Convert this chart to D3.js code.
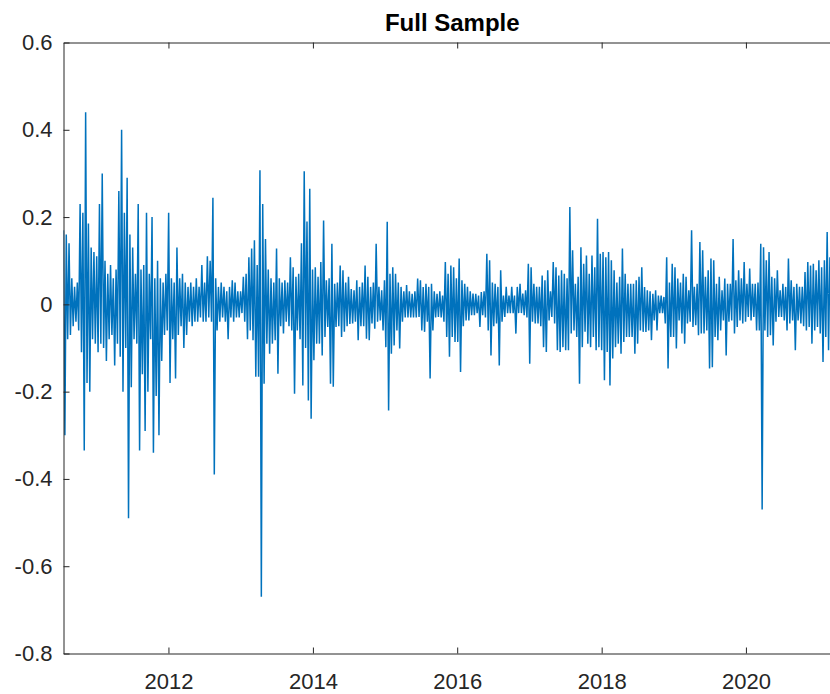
<!DOCTYPE html>
<html>
<head>
<meta charset="utf-8">
<script src="https://cdn.jsdelivr.net/npm/d3@7"></script>
<style>
    body { margin: 0; background: #fff; }
    svg { display: block; }
    text { font-family: "Liberation Sans", Arial, Helvetica, sans-serif; }
</style>
</head>
<body>
<svg id="chart" width="830" height="694"></svg>
<script>
// Daily return series, read off the picture as weekly max/min pairs
// (even index = upper extreme of that week, odd index = lower extreme).
var startDate = new Date(2010, 6, 19);
var stepDays = 7;
var weeklyReturns = [
    0.17, -0.30, 0.16, -0.08, 0.14, -0.07, 0.06, -0.05, 0.04, -0.04,
    0.05, -0.06, 0.23, -0.11, 0.21, -0.335, 0.44, -0.18, 0.185, -0.20,
    0.13, -0.08, 0.12, -0.09, 0.11, -0.11, 0.23, -0.09, 0.30, -0.10,
    0.10, -0.13, 0.07, -0.08, 0.09, -0.07, 0.06, -0.14, 0.08, -0.09,
    0.26, -0.12, 0.40, -0.20, 0.21, -0.10, 0.29, -0.49, 0.16, -0.19,
    0.13, -0.08, 0.07, -0.09, 0.23, -0.335, 0.08, -0.16, 0.09, -0.29,
    0.21, -0.20, 0.07, -0.08, 0.20, -0.34, 0.06, -0.21, 0.10, -0.30,
    0.06, -0.13, 0.05, -0.07, 0.07, -0.06, 0.21, -0.18, 0.06, -0.08,
    0.05, -0.17, 0.13, -0.07, 0.06, -0.05, 0.07, -0.10, 0.05, -0.07,
    0.04, -0.04, 0.05, -0.05, 0.04, -0.04, 0.06, -0.04, 0.04, -0.03,
    0.09, -0.04, 0.05, -0.04, 0.11, -0.03, 0.10, -0.04, 0.244, -0.39,
    0.06, -0.06, 0.04, -0.04, 0.05, -0.03, 0.04, -0.04, 0.03, -0.08,
    0.04, -0.03, 0.055, -0.04, 0.05, -0.03, 0.03, -0.03, 0.03, -0.02,
    0.063, -0.04, 0.07, -0.08, 0.108, -0.06, 0.128, -0.082, 0.147, -0.166,
    0.09, -0.166, 0.307, -0.67, 0.23, -0.182, 0.15, -0.09, 0.08, -0.113,
    0.06, -0.09, 0.05, -0.082, 0.128, -0.159, 0.06, -0.05, 0.05, -0.067,
    0.055, -0.04, 0.05, -0.05, 0.108, -0.06, 0.085, -0.205, 0.063, -0.06,
    0.07, -0.08, 0.14, -0.186, 0.305, -0.10, 0.19, -0.22, 0.265, -0.262,
    0.08, -0.128, 0.085, -0.09, 0.063, -0.09, 0.097, -0.117, 0.192, -0.075,
    0.055, -0.052, 0.06, -0.182, 0.139, -0.189, 0.047, -0.052, 0.05, -0.05,
    0.089, -0.075, 0.078, -0.063, 0.05, -0.05, 0.063, -0.045, 0.035, -0.044,
    0.032, -0.04, 0.055, -0.082, 0.04, -0.05, 0.05, -0.05, 0.089, -0.079,
    0.063, -0.082, 0.04, -0.044, 0.05, -0.056, 0.139, -0.04, 0.04, -0.037,
    0.032, -0.06, 0.055, -0.098, 0.189, -0.243, 0.07, -0.113, 0.085, -0.094,
    0.07, -0.06, 0.05, -0.101, 0.04, -0.04, 0.03, -0.03, 0.044, -0.03,
    0.03, -0.03, 0.024, -0.03, 0.03, -0.03, 0.059, -0.029, 0.055, -0.06,
    0.04, -0.063, 0.047, -0.04, 0.04, -0.17, 0.047, -0.06, 0.03, -0.03,
    0.024, -0.029, 0.03, -0.03, 0.02, -0.04, 0.097, -0.075, 0.07, -0.12,
    0.089, -0.075, 0.085, -0.086, 0.06, -0.086, 0.105, -0.155, 0.055, -0.05,
    0.047, -0.037, 0.04, -0.037, 0.03, -0.025, 0.025, -0.025, 0.024, -0.02,
    0.02, -0.052, 0.028, -0.025, 0.03, -0.03, 0.116, -0.06, 0.101, -0.117,
    0.05, -0.05, 0.047, -0.044, 0.04, -0.14, 0.078, -0.04, 0.02, -0.029,
    0.04, -0.02, 0.02, -0.02, 0.04, -0.02, 0.02, -0.067, 0.04, -0.02,
    0.047, -0.02, 0.025, -0.025, 0.032, -0.03, 0.093, -0.136, 0.085, -0.04,
    0.047, -0.044, 0.04, -0.044, 0.04, -0.05, 0.066, -0.098, 0.055, -0.109,
    0.078, -0.037, 0.03, -0.029, 0.097, -0.044, 0.085, -0.105, 0.066, -0.109,
    0.078, -0.098, 0.07, -0.105, 0.06, -0.105, 0.223, -0.067, 0.124, -0.06,
    0.047, -0.075, 0.063, -0.182, 0.131, -0.098, 0.093, -0.063, 0.112, -0.09,
    0.07, -0.098, 0.112, -0.075, 0.085, -0.105, 0.196, -0.098, 0.116, -0.105,
    0.12, -0.174, 0.108, -0.109, 0.12, -0.186, 0.101, -0.124, 0.078, -0.098,
    0.05, -0.09, 0.063, -0.113, 0.128, -0.086, 0.07, -0.075, 0.047, -0.075,
    0.047, -0.075, 0.047, -0.113, 0.055, -0.09, 0.063, -0.06, 0.085, -0.063,
    0.04, -0.063, 0.032, -0.06, 0.03, -0.082, 0.024, -0.037, 0.032, -0.06,
    0.02, -0.02, 0.02, -0.02, 0.017, -0.044, 0.108, -0.147, 0.05, -0.075,
    0.093, -0.075, 0.085, -0.101, 0.059, -0.037, 0.05, -0.067, 0.07, -0.09,
    0.063, -0.044, 0.032, -0.04, 0.17, -0.052, 0.04, -0.048, 0.047, -0.071,
    0.143, -0.067, 0.124, -0.067, 0.063, -0.06, 0.078, -0.147, 0.105, -0.144,
    0.101, -0.075, 0.047, -0.082, 0.063, -0.06, 0.032, -0.037, 0.059, -0.117,
    0.047, -0.04, 0.047, -0.037, 0.15, -0.067, 0.055, -0.052, 0.078, -0.037,
    0.06, -0.044, 0.097, -0.04, 0.047, -0.029, 0.082, -0.037, 0.047, -0.029,
    0.047, -0.06, 0.05, -0.06, 0.139, -0.47, 0.131, -0.06, 0.101, -0.075,
    0.12, -0.071, 0.063, -0.094, 0.06, -0.04, 0.078, -0.029, 0.032, -0.029,
    0.047, -0.037, 0.04, -0.06, 0.105, -0.044, 0.055, -0.037, 0.04, -0.105,
    0.047, -0.037, 0.04, -0.044, 0.04, -0.05, 0.074, -0.06, 0.097, -0.052,
    0.089, -0.09, 0.093, -0.06, 0.078, -0.052, 0.101, -0.067, 0.085, -0.132,
    0.101, -0.075, 0.166, -0.105, 0.108, -0.08
];

var yTicks = [-0.8, -0.6, -0.4, -0.2, 0, 0.2, 0.4, 0.6];
var yTickLabels = ["-0.8", "-0.6", "-0.4", "-0.2", "0", "0.2", "0.4", "0.6"];
var xTickYears = [2012, 2014, 2016, 2018, 2020];

var axisColor = "#262626";
var lineColor = "#0072BD";

var svg = d3.select("#chart");

// axes box runs past the right edge of the picture (it is cropped there)
var plotLeft = 63.5, plotRight = 841, plotTop = 42.5, plotBottom = 653.5;

var x = d3.scaleTime()
    .domain([startDate, new Date(2021, 3, 26)])
    .range([plotLeft, plotRight]);

var y = d3.scaleLinear()
    .domain([-0.8, 0.6])
    .range([plotBottom, plotTop]);

var series = weeklyReturns.map(function (v, i) {
    return {date: d3.timeDay.offset(startDate, i * stepDays), value: v};
});

svg.append("clipPath").attr("id", "plotClip")
    .append("rect")
    .attr("x", plotLeft).attr("y", plotTop)
    .attr("width", plotRight - plotLeft).attr("height", plotBottom - plotTop);

var line = d3.line()
    .x(function (d) { return x(d.date); })
    .y(function (d) { return y(d.value); });

svg.append("path")
    .datum(series)
    .attr("clip-path", "url(#plotClip)")
    .attr("fill", "none")
    .attr("stroke", lineColor)
    .attr("stroke-width", 1.5)
    .attr("stroke-linejoin", "bevel")
    .attr("d", line);

var yearDates = xTickYears.map(function (yr) { return new Date(yr, 0, 1); });

// bottom axis with year labels
var xAxis = svg.append("g")
    .attr("transform", "translate(0," + plotBottom + ")")
    .call(d3.axisBottom(x)
        .tickValues(yearDates)
        .tickFormat(d3.timeFormat("%Y"))
        .tickSizeInner(-6)
        .tickSizeOuter(0)
        .tickPadding(20));

// top axis, ticks only (box on)
var xAxisTop = svg.append("g")
    .attr("transform", "translate(0," + plotTop + ")")
    .call(d3.axisTop(x)
        .tickValues(yearDates)
        .tickFormat(function () { return ""; })
        .tickSizeInner(-6)
        .tickSizeOuter(0));

// left axis
var yAxis = svg.append("g")
    .attr("transform", "translate(" + plotLeft + ",0)")
    .call(d3.axisLeft(y)
        .tickValues(yTicks)
        .tickFormat(function (d, i) { return yTickLabels[i]; })
        .tickSizeInner(-6)
        .tickSizeOuter(0)
        .tickPadding(11));

[xAxis, xAxisTop, yAxis].forEach(function (g) {
    g.select(".domain").attr("stroke", axisColor).attr("stroke-width", 1);
    g.selectAll(".tick line").attr("stroke", axisColor).attr("stroke-width", 1);
    g.selectAll(".tick text")
        .attr("fill", axisColor)
        .style("font-size", "22px")
        .style("font-family", '"Liberation Sans", Arial, Helvetica, sans-serif');
});

svg.append("text")
    .attr("x", (plotLeft + plotRight) / 2)
    .attr("y", 31)
    .attr("text-anchor", "middle")
    .attr("fill", "#000")
    .style("font-size", "24px")
    .style("font-weight", "bold")
    .text("Full Sample");
</script>
</body>
</html>
